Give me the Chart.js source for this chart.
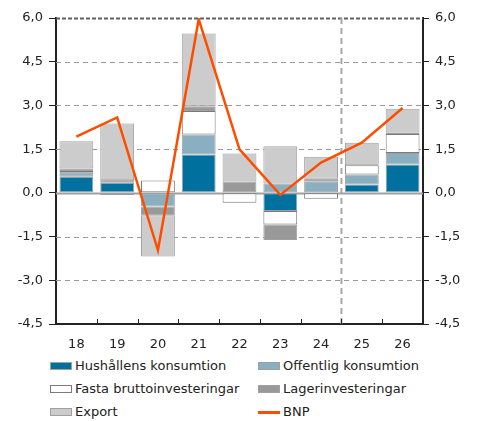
<!DOCTYPE html>
<html>
<head>
<meta charset="utf-8">
<script src="https://cdn.jsdelivr.net/npm/chart.js@4/dist/chart.umd.min.js"></script>
<style>
  body { margin: 0; background: #fff; }
  #wrap { position: relative; width: 483px; height: 421px; font-family: "DejaVu Sans", Verdana, sans-serif; font-size: 13px; color: #222; }
  #chart_box { position: absolute; left: 0; top: 0; width: 483px; height: 352px; }
  .leg { position: absolute; white-space: nowrap; line-height: 16px; }
  .leg .box { position: absolute; left: 0; top: 4px; width: 20px; height: 6px; border: 1px solid #a0a0a0; }
  .leg .ln { position: absolute; left: 0; top: 7px; width: 22px; height: 3px; background: #ff4d00; }
  .leg span.t { position: absolute; left: 25px; top: 0; }
</style>
</head>
<body>
<div id="wrap">
  <div id="chart_box"><canvas id="chart"></canvas></div>
  <div id="legend"></div>
</div>
<script>
// data
let years = ["18", "19", "20", "21", "22", "23", "24", "25", "26"];
let hushall = [0.55, 0.35, 0, 1.32, 0, -0.62, 0, 0.29, 0.97];
let offentlig = [0.14, 0.03, -0.47, 0.68, 0, 0.32, 0.38, 0.34, 0.40];
let fasta = [0.06, 0.05, 0.42, 0.81, -0.34, -0.47, -0.20, 0.32, 0.65];
let lager = [0.09, -0.08, -0.30, 0.16, 0.39, -0.53, 0.10, 0, 0.05];
let exporten = [0.93, 1.95, -1.41, 2.50, 0.96, 1.28, 0.76, 0.77, 0.82];
let bnp = [1.93, 2.59, -1.97, 5.96, 1.49, -0.07, 1.04, 1.72, 2.91];
let y_min = -4.5, y_max = 6.0, y_step = 1.5;

let names = ["Hushållens konsumtion", "Offentlig konsumtion", "Fasta bruttoinvesteringar", "Lagerinvesteringar", "Export", "BNP"];
let colors = ["#00709e", "#8aafc0", "#ffffff", "#999999", "#cccccc", "#ff4d00"];

function fmt(v) { return v.toFixed(1).replace(".", ","); }

function bar_set(i, values) {
    return {
        type: "bar", label: names[i], data: values, stack: "komp", order: 1,
        backgroundColor: colors[i],
        borderColor: i == 2 ? "#7a7a7a" : "#a0a0a0",
        borderWidth: 1, borderSkipped: false,
        barPercentage: 0.83, categoryPercentage: 1.0
    };
}

// grid lines, zero line, prognosis divider, x tick marks
let extras = {
    id: "extras",
    beforeDatasetsDraw(chart) {
        let ctx = chart.ctx, a = chart.chartArea, y = chart.scales.y, x = chart.scales.x;
        ctx.save();
        y.ticks.forEach(function (t) {
            let py = y.getPixelForValue(t.value);
            if (t.value == y_min || t.value == 0) return;
            ctx.beginPath();
            if (t.value == y_max) { ctx.strokeStyle = "#606060"; ctx.lineWidth = 2; ctx.setLineDash([4, 2]); }
            else { ctx.strokeStyle = "#9a9a9a"; ctx.lineWidth = 1; ctx.setLineDash([5, 4]); }
            ctx.moveTo(a.left, Math.round(py) + 0.5);
            ctx.lineTo(a.right, Math.round(py) + 0.5);
            ctx.stroke();
        });
        // prognosis divider between 24 and 25
        let px = (x.getPixelForValue(6) + x.getPixelForValue(7)) / 2;
        ctx.beginPath();
        ctx.strokeStyle = "#a8a8a8"; ctx.lineWidth = 2; ctx.setLineDash([6, 4]);
        ctx.moveTo(px, a.top); ctx.lineTo(px, a.bottom);
        ctx.stroke();
        // zero line
        let p0 = Math.round(y.getPixelForValue(0)) + 0.5;
        ctx.beginPath();
        ctx.setLineDash([]); ctx.strokeStyle = "#a0a0a0"; ctx.lineWidth = 2;
        ctx.moveTo(a.left, p0); ctx.lineTo(a.right, p0);
        ctx.stroke();
        ctx.restore();
    },
    afterDraw(chart) {
        let ctx = chart.ctx, a = chart.chartArea, x = chart.scales.x;
        ctx.save();
        ctx.strokeStyle = "#222"; ctx.lineWidth = 1;
        for (let i = 1; i < years.length; i++) {
            let px = Math.round((x.getPixelForValue(i - 1) + x.getPixelForValue(i)) / 2) + 0.5;
            ctx.beginPath();
            ctx.moveTo(px, a.bottom - 5); ctx.lineTo(px, a.bottom);
            ctx.stroke();
        }
        ctx.restore();
    }
};

let ctx = document.getElementById("chart").getContext("2d");
let chart = new Chart(ctx, {
    data: {
        labels: years,
        datasets: [
            bar_set(0, hushall), bar_set(1, offentlig), bar_set(2, fasta), bar_set(3, lager), bar_set(4, exporten),
            {
                type: "line", label: names[5], data: bnp, stack: "bnp", order: 0,
                borderColor: colors[5], borderWidth: 2.5, pointRadius: 0, tension: 0, fill: false
            }
        ]
    },
    options: {
        responsive: true, maintainAspectRatio: false, animation: false,
        layout: { padding: { top: 18, left: 0, right: 0, bottom: 0 } },
        plugins: { legend: { display: false }, tooltip: { enabled: false } },
        scales: {
            x: {
                stacked: true, offset: true,
                grid: { display: false },
                border: { display: true, color: "#222", width: 2 },
                ticks: { color: "#222", padding: 5, font: { family: "DejaVu Sans", size: 13 } },
                afterFit(s) { s.height = 28; }
            },
            y: {
                stacked: true, position: "left", min: y_min, max: y_max,
                grid: { drawOnChartArea: false, drawTicks: true, tickLength: 7, tickColor: "#222", color: "#222" },
                border: { display: true, color: "#222", width: 2 },
                ticks: { stepSize: y_step, padding: 6, color: "#222", font: { family: "DejaVu Sans", size: 13 }, callback: function (v) { return fmt(v); } },
                afterFit(s) { s.width = 56; }
            },
            y2: {
                position: "right", min: y_min, max: y_max,
                grid: { drawOnChartArea: false, drawTicks: true, tickLength: 6, tickColor: "#222", color: "#222" },
                border: { display: true, color: "#222", width: 2 },
                ticks: { stepSize: y_step, padding: 6, color: "#222", font: { family: "DejaVu Sans", size: 13 }, callback: function (v) { return fmt(v); } },
                afterFit(s) { s.width = 60; }
            }
        }
    },
    plugins: [extras]
});

// legend, two columns
let legend = document.getElementById("legend");
let leg_x = [50, 258], leg_y = [358, 381, 404];
names.forEach(function (n, i) {
    let d = document.createElement("div");
    d.className = "leg";
    d.style.left = leg_x[i % 2] + "px";
    d.style.top = leg_y[Math.floor(i / 2)] + "px";
    let mark = document.createElement("div");
    if (i == 5) {
        mark.className = "ln";
    } else {
        mark.className = "box";
        mark.style.background = colors[i];
        if (i == 2) mark.style.borderColor = "#7a7a7a";
    }
    let t = document.createElement("span");
    t.className = "t";
    t.innerText = n;
    d.appendChild(mark);
    d.appendChild(t);
    legend.appendChild(d);
});
</script>
</body>
</html>
